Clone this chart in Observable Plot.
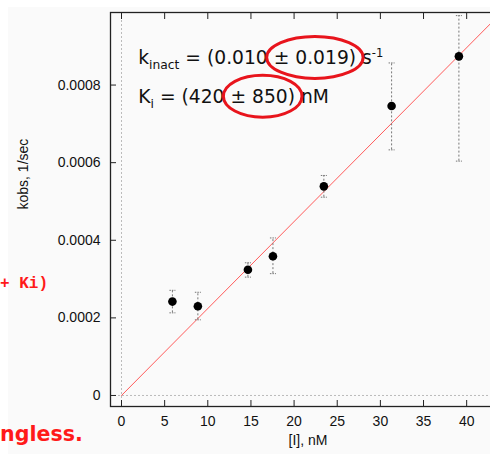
<!DOCTYPE html>
<html><head><meta charset="utf-8">
<script src="https://cdn.jsdelivr.net/npm/d3@7"></script>
<script src="https://cdn.jsdelivr.net/npm/@observablehq/plot@0.6"></script>
<style>
html,body{margin:0;padding:0;background:#fff;overflow:hidden;width:490px;height:454px}
#chart{position:relative;width:490px;height:454px;overflow:hidden}
</style></head><body><div id="chart"></div>
<script>
// Data
const conc    = [5.9, 8.85, 14.65, 17.55, 23.45, 31.3, 39.1];           // [I], nM
const kobs    = [0.000242, 0.000230, 0.000324, 0.000359, 0.000539, 0.000746, 0.000874];
const errLow  = [0.000213, 0.000195, 0.000305, 0.000314, 0.000511, 0.000633, 0.000604];
const errHigh = [0.000271, 0.000266, 0.000342, 0.000406, 0.000567, 0.000857, 0.000979];
const fitX = [0, 44];
const fitY = [0, 0.000986];
const xTicks = [0, 5, 10, 15, 20, 25, 30, 35, 40];
const yTicks = [0, 0.0002, 0.0004, 0.0006, 0.0008];
const xLabel = "[I], nM";
const yLabel = "kobs, 1/sec";
const capHalf = 0.35;
const annX = 2.0, ann1Y = 0.000852, ann2Y = 0.000752;

const idx = d3.range(conc.length);
const fitIdx = d3.range(fitX.length);
const gray = "#777";

const plot = Plot.plot({
  width: 505, height: 454,
  marginLeft: 110, marginTop: 12, marginBottom: 48, marginRight: 0,
  style: {background: "transparent", fontFamily: "Liberation Sans, Arial, sans-serif", fontSize: "14px", color: "#111"},
  x: {domain: [-1.275, 44.5]},
  y: {domain: [-0.0000284, 0.000987]},
  marks: [
    Plot.ruleX([0], {stroke: "#bbb", strokeDasharray: "2,2"}),
    Plot.ruleY([0], {stroke: "#bbb", strokeDasharray: "2,2"}),
    Plot.line(fitIdx, {x: i => fitX[i], y: i => fitY[i], stroke: "#ff5a5a", strokeWidth: 1, clip: true}),
    Plot.ruleX(idx, {x: i => conc[i], y1: i => errLow[i], y2: i => errHigh[i], stroke: gray, strokeDasharray: "2,2"}),
    Plot.link(idx, {x1: i => conc[i] - capHalf, x2: i => conc[i] + capHalf, y1: i => errLow[i], y2: i => errLow[i], stroke: gray, strokeDasharray: "1.5,1"}),
    Plot.link(idx, {x1: i => conc[i] - capHalf, x2: i => conc[i] + capHalf, y1: i => errHigh[i], y2: i => errHigh[i], stroke: gray, strokeDasharray: "1.5,1"}),
    Plot.dot(idx, {x: i => conc[i], y: i => kobs[i], r: 4.3, fill: "black"}),
    Plot.frame({stroke: "#222", strokeWidth: 1.3}),
    Plot.axisY(yTicks, {anchor: "left", tickSize: -6, tickPadding: 16, stroke: "#222", tickFormat: d => d === 0 ? "0" : d.toFixed(4), label: null}),
    Plot.axisX(xTicks, {anchor: "bottom", tickSize: -6, tickPadding: 16, stroke: "#222", label: null}),
    Plot.axisX(xTicks, {anchor: "top", tickSize: -6, stroke: "#222", tickFormat: () => "", label: null}),
    Plot.text([xLabel], {frameAnchor: "bottom", dy: 38, text: d => d, fontSize: 14}),
    Plot.text([yLabel], {frameAnchor: "left", dx: -87, rotate: -90, text: d => d, fontSize: 14})
  ]
});
plot.style.maxWidth = "none";
plot.style.height = "454px";
document.getElementById("chart").appendChild(plot);

const svg = d3.select(plot);
const sx = plot.scale("x"), sy = plot.scale("y");
svg.insert("rect", ":first-child").attr("x", 8).attr("y", 7).attr("width", 600).attr("height", 500).attr("fill", "#fafafa");

const g = svg.append("g").attr("font-family", "DejaVu Sans, Verdana, sans-serif").attr("fill", "#111").attr("text-anchor", "start");
function richLine(y, parts, circled) {
  const t = g.append("text").attr("x", sx.apply(annX)).attr("y", sy.apply(y)).attr("font-size", 18.7).attr("text-anchor", "start");
  let pos = 0, start = -1, len = 0;
  parts.forEach(p => {
    const s = t.append("tspan").text(p.t);
    if (p.sub) s.attr("font-size", 12.3).attr("dy", 4.5);
    if (p.sup) s.attr("font-size", 11.5).attr("dy", -7.5);
    if (p.back) s.attr("dy", p.back);
    if (p.t === circled) { start = pos; len = p.t.length; }
    pos += p.t.length;
  });
  const node = t.node();
  const a = node.getStartPositionOfChar(start).x;
  const b = node.getEndPositionOfChar(start + len - 1).x;
  return {cx: (a + b) / 2, w: b - a, y: sy.apply(y)};
}
const e1 = richLine(ann1Y, [
  {t: "k"}, {t: "inact", sub: true}, {t: " = (0.010 ", back: -4.5}, {t: "± 0.019)"}, {t: " s"}, {t: "-1", sup: true}
], "± 0.019)");
const e2 = richLine(ann2Y, [
  {t: "K"}, {t: "i", sub: true}, {t: " = (420 ", back: -4.5}, {t: "± 850)"}, {t: " nM"}
], "± 850)");
[e1, e2].forEach(e => {
  svg.append("ellipse").attr("cx", e.cx).attr("cy", e.y - 7).attr("rx", e.w / 2 + 7).attr("ry", 21)
    .attr("fill", "none").attr("stroke", "#e8141c").attr("stroke-width", 3);
});

// slide text fragments overlapping the chart image
svg.append("text").attr("x", 0).attr("y", 288).attr("text-anchor", "start").attr("font-family", "Liberation Mono, Courier New, monospace")
  .attr("font-weight", "bold").attr("font-size", 16).attr("fill", "#ff1a1a").text("+ Ki)");
svg.append("text").attr("x", 0).attr("y", 441).attr("text-anchor", "start").attr("font-family", "DejaVu Sans, Verdana, sans-serif")
  .attr("font-weight", "bold").attr("font-size", 20.6).attr("fill", "#ff1a1a").text("ngless.");
</script></body></html>
